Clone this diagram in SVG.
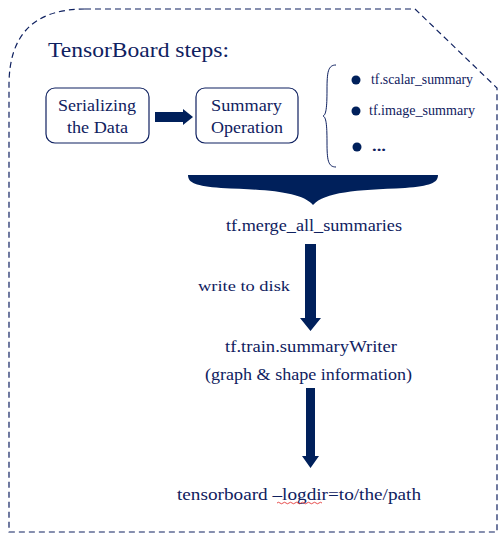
<svg xmlns="http://www.w3.org/2000/svg" width="503" height="540" viewBox="0 0 503 540">
<style>
text{font-family:'Liberation Serif','Times New Roman',serif;fill:#0f2160;}
.box{fill:#fff;stroke:#0f2160;stroke-width:1.2;}
.lbl{font-size:16.5px;}
.sm{font-size:14px;}
.blk{fill:#00205b;}
</style>
<rect width="503" height="540" fill="#fff"/>
<path d="M85,9 L415,9 L497,88 L497,532 L9,532 L9,85 Q9,9 85,9 Z" fill="none" stroke="#0f2160" stroke-width="1.2" stroke-dasharray="6,4"/>
<text x="48" y="57" font-size="22" textLength="181" lengthAdjust="spacingAndGlyphs">TensorBoard steps:</text>
<g id="serializing">
<rect class="box" x="46" y="88" width="103" height="55" rx="9"/>
<text class="lbl" x="58" y="111" textLength="78" lengthAdjust="spacingAndGlyphs">Serializing</text>
<text class="lbl" x="67" y="133" textLength="61" lengthAdjust="spacingAndGlyphs">the Data</text>
</g>
<g id="summary-op">
<rect class="box" x="196" y="88" width="102" height="55" rx="9"/>
<text class="lbl" x="211" y="111" textLength="71" lengthAdjust="spacingAndGlyphs">Summary</text>
<text class="lbl" x="211" y="133" textLength="72" lengthAdjust="spacingAndGlyphs">Operation</text>
</g>
<g id="summary-list">
<path d="M336,65 C328,65 327,72 327,90 C327,108 326,115 323,116 C326,117 327,124 327,142 C327,160 328,167 336,167" fill="none" stroke="#0f2160" stroke-width="1"/>
<circle class="blk" cx="356" cy="80" r="4.5"/>
<circle class="blk" cx="356" cy="111" r="4.5"/>
<circle class="blk" cx="357" cy="147" r="4.5"/>
<text class="sm" x="371" y="84" textLength="102" lengthAdjust="spacingAndGlyphs">tf.scalar_summary</text>
<text class="sm" x="369" y="115" textLength="106" lengthAdjust="spacingAndGlyphs">tf.image_summary</text>
<text x="372" y="151" font-size="15" font-weight="bold" textLength="14" lengthAdjust="spacingAndGlyphs">...</text>
</g>
<g id="merge">
<text class="lbl" x="226" y="231" textLength="176" lengthAdjust="spacingAndGlyphs">tf.merge_all_summaries</text>
</g>
<g id="writer">
<text class="lbl" x="225" y="352" textLength="172" lengthAdjust="spacingAndGlyphs">tf.train.summaryWriter</text>
<text class="lbl" x="205" y="380" textLength="207" lengthAdjust="spacingAndGlyphs">(graph &amp; shape information)</text>
</g>
<g id="tensorboard">
<text class="lbl" x="177" y="500" textLength="244" lengthAdjust="spacingAndGlyphs">tensorboard –logdir=to/the/path</text>
<path d="M277,503 q1.5,-1.5 3,0 t3,0 t3,0 t3,0 t3,0 t3,0 t3,0 t3,0 t3,0 t3,0 t3,0 t3,0 t3,0 t3,0 t3,0" fill="none" stroke="#e02020" stroke-width="0.8"/>
</g>
<g id="connectors">
<path class="blk" d="M155,112 L183,112 L183,109 L193,117 L183,125 L183,122 L155,122 Z"/>
<path class="blk" d="M188,175 L438,175 C438,183 430,186 405,188 C355,190 325,192 313,205 C301,192 271,190 221,188 C196,186 188,183 188,175 Z"/>
<text x="198" y="291" font-size="15.5" textLength="92" lengthAdjust="spacingAndGlyphs">write to disk</text>
<path class="blk" d="M305,244 L316,244 L316,318 L321,318 L310.5,331 L300,318 L305,318 Z"/>
<path class="blk" d="M306,388 L315,388 L315,456 L319,456 L310.5,468 L302,456 L306,456 Z"/>
</g>
</svg>
